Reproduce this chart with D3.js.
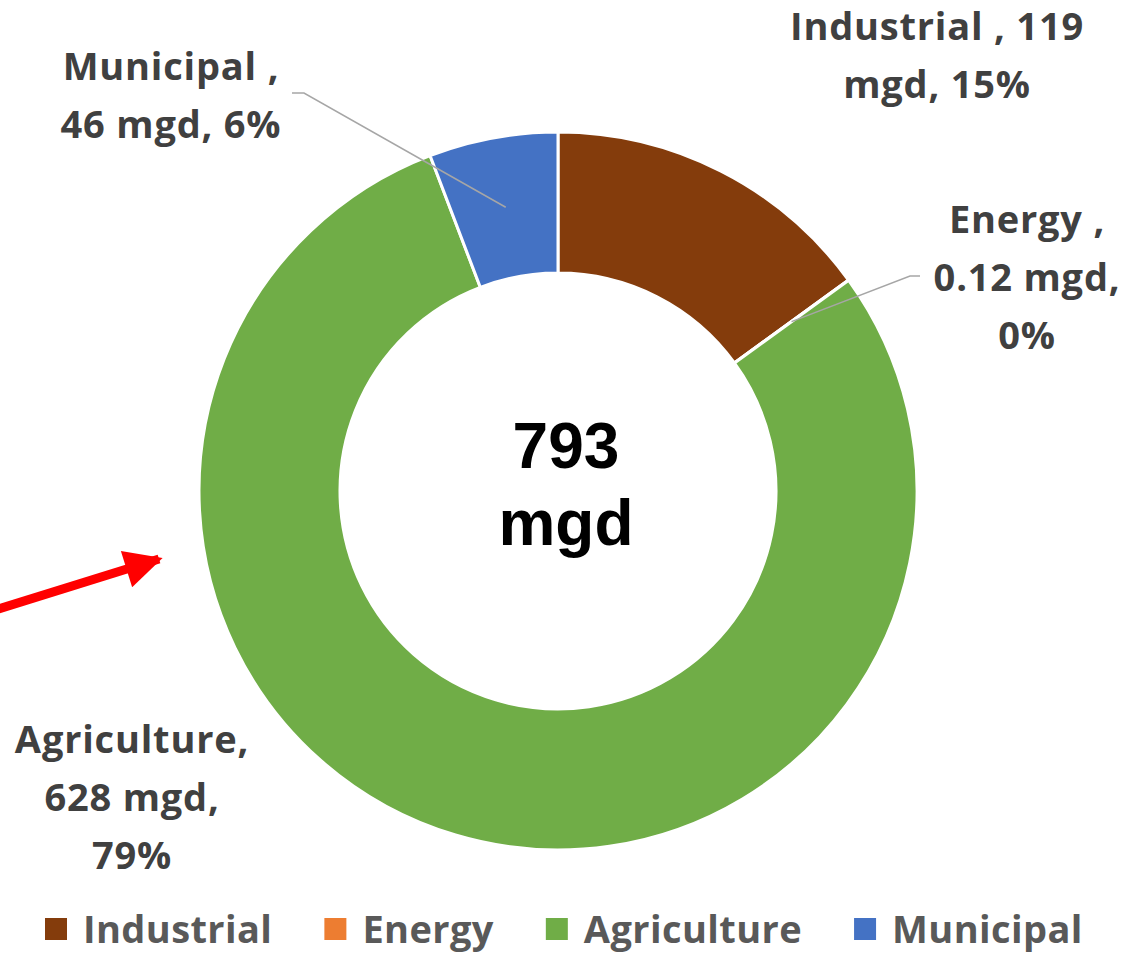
<!DOCTYPE html>
<meta charset="utf-8">
<script src="https://d3js.org/d3.v7.min.js"></script>
<style>
body { margin: 0; background: #fff; }
text { font-family: "Open Sans", Lato, sans-serif; font-weight: bold; }
</style>
<body>
<div id="vis"></div>
<script>

// water use by sector, million gallons per day
var sectors = ["Industrial", "Energy", "Agriculture", "Municipal"];
var mgd = [119, 0.12, 628, 46];
var mgdText = ["119", "0.12", "628", "46"];
var pctText = ["15%", "0%", "79%", "6%"];
var colors = ["#843C0C", "#ED7D31", "#70AD47", "#4472C4"];
var totalText = ["793", "mgd"];

var width = 1137, height = 953;
var cx = 558, cy = 491, outer = 359, inner = 218;

// where each data label sits (first baseline) and how its lines break
var labelLayout = {
  Industrial:  { x: 937,  y: 40,  lines: function(i) { return ["Industrial , " + mgdText[i], "mgd, " + pctText[i]]; }, elbow: null },
  Energy:      { x: 1027, y: 233, lines: function(i) { return ["Energy ,", mgdText[i] + " mgd,", pctText[i]]; }, elbow: [[920, 276], [910, 276]] },
  Agriculture: { x: 132,  y: 753, lines: function(i) { return ["Agriculture,", mgdText[i] + " mgd,", pctText[i]]; }, elbow: null },
  Municipal:   { x: 171,  y: 80,  lines: function(i) { return ["Municipal ,", mgdText[i] + " mgd, " + pctText[i]]; }, elbow: [[292, 93], [304, 93]] }
};
var lineGap = 58;

var svg = d3.select("#vis").append("svg")
  .attr("width", width)
  .attr("height", height);

var data = sectors.map(function(s, i) { return { name: s, value: mgd[i], i: i }; });

var pie = d3.pie()
  .sort(null)
  .value(function(d) { return d.value; });

var arc = d3.arc()
  .innerRadius(inner)
  .outerRadius(outer);

var arcs = pie(data);

var g = svg.append("g")
  .attr("transform", "translate(" + cx + "," + cy + ")");

g.selectAll("path")
  .data(arcs)
  .enter().append("path")
  .attr("d", arc)
  .style("fill", function(d) { return colors[d.data.i]; })
  .style("stroke", "#fff")
  .style("stroke-width", 3);

// leader lines from slice centroid to label
arcs.forEach(function(d) {
  var lay = labelLayout[d.data.name];
  if (!lay.elbow) return;
  var c = arc.centroid(d);
  var pts = lay.elbow.concat([[cx + c[0], cy + c[1]]]);
  svg.append("path")
    .attr("d", d3.line()(pts))
    .style("fill", "none")
    .style("stroke", "#A6A6A6")
    .style("stroke-width", 1.5);
});

// data labels
data.forEach(function(d) {
  var lay = labelLayout[d.name];
  var t = svg.append("text")
    .attr("text-anchor", "middle")
    .style("font-size", "38px")
    .style("letter-spacing", "0.8px")
    .style("fill", "#404040");
  lay.lines(d.i).forEach(function(l, k) {
    t.append("tspan")
      .attr("x", lay.x)
      .attr("y", lay.y + k * lineGap)
      .text(l);
  });
});

// total in the hole
svg.append("g").selectAll("text")
  .data(totalText)
  .enter().append("text")
  .attr("x", cx + 8)
  .attr("y", function(d, k) { return 468 + k * 77; })
  .attr("text-anchor", "middle")
  .style("font-family", "'Liberation Sans', Arial, sans-serif")
  .style("font-size", "64px")
  .style("fill", "#000")
  .text(function(d) { return d; });

// legend
var legend = svg.append("g");
var lx = 45;
data.forEach(function(d) {
  legend.append("rect")
    .attr("x", lx)
    .attr("y", 918)
    .attr("width", 22)
    .attr("height", 22)
    .style("fill", colors[d.i]);
  var t = legend.append("text")
    .attr("x", lx + 38)
    .attr("y", 943)
    .style("font-size", "38px")
    .style("letter-spacing", "0.4px")
    .style("fill", "#595959")
    .text(d.name);
  lx += 38 + t.node().getComputedTextLength() + 52;
});

// red arrow pointing at the agriculture slice
var arrowFrom = [-5, 610], arrowTo = [165, 557];
svg.append("defs").append("marker")
  .attr("id", "head")
  .attr("viewBox", "0 0 10 10")
  .attr("refX", 9)
  .attr("refY", 5)
  .attr("markerWidth", 4.6)
  .attr("markerHeight", 4.2)
  .attr("markerUnits", "strokeWidth")
  .attr("orient", "auto")
  .append("path")
  .attr("d", "M0,0L10,5L0,10z")
  .style("fill", "#FF0000");

svg.append("line")
  .attr("x1", arrowFrom[0]).attr("y1", arrowFrom[1])
  .attr("x2", arrowTo[0] - 6).attr("y2", arrowTo[1] + 2)
  .style("stroke", "#FF0000")
  .style("stroke-width", 9)
  .attr("marker-end", "url(#head)");

</script>
</body>
